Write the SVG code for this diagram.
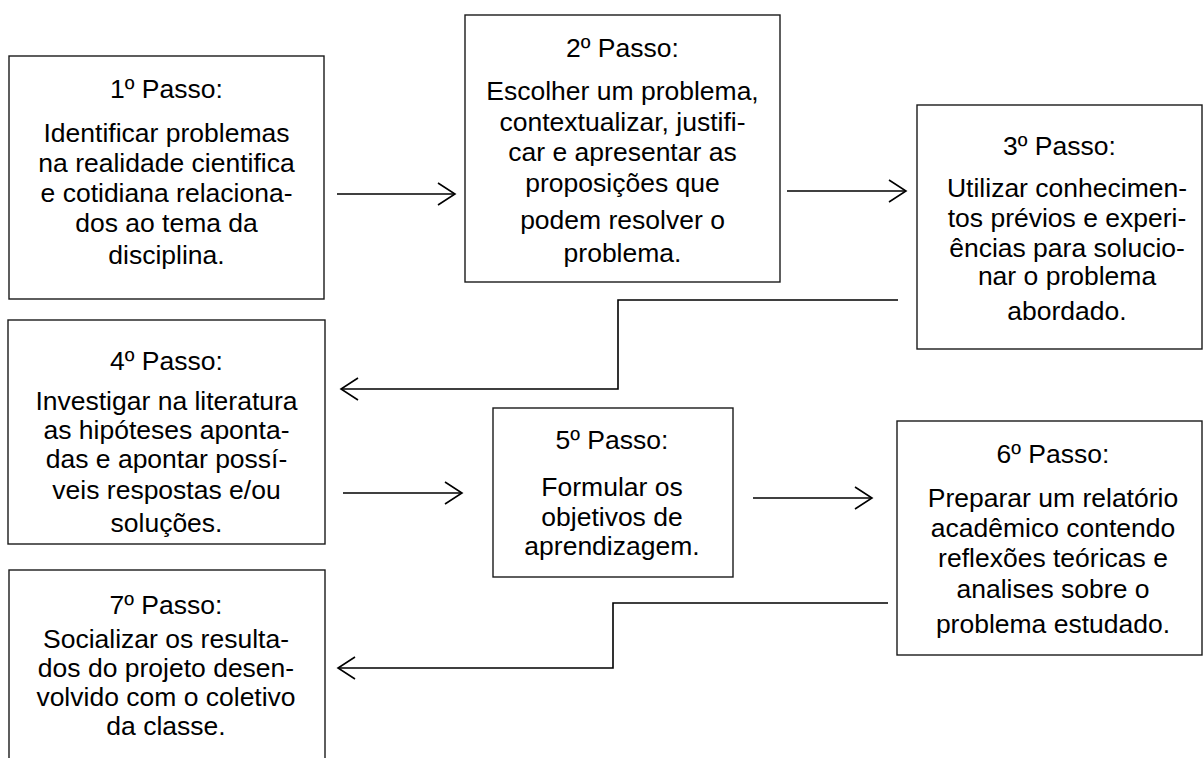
<svg xmlns="http://www.w3.org/2000/svg" width="1203" height="758" viewBox="0 0 1203 758">
<style>
.box{fill:#fff;stroke:#1a1a1a;stroke-width:1.4}
.t{font-family:"Liberation Sans",Arial,sans-serif;font-size:26.5px;fill:#000;text-anchor:middle}
.c{fill:none;stroke:#000;stroke-width:1.6}
</style>
<defs>
<marker id="ah" markerUnits="userSpaceOnUse" markerWidth="30" markerHeight="30" refX="0" refY="0" viewBox="-20 -15 25 30" orient="auto" overflow="visible">
<path d="M-17,-11 L0,0 L-17,11" fill="none" stroke="#000" stroke-width="1.6"/>
</marker>
</defs>
<rect width="1203" height="758" fill="#fff"/>
<g id="node1">
<rect class="box" x="9" y="56" width="315" height="243"/>
<text class="t" x="166.5" y="98">1º Passo:</text>
<text class="t" x="166.5" y="142">Identificar problemas</text>
<text class="t" x="166.5" y="172">na realidade cientifica</text>
<text class="t" x="166.5" y="202">e cotidiana relaciona-</text>
<text class="t" x="166.5" y="232">dos ao tema da</text>
<text class="t" x="166.5" y="264">disciplina.</text>
</g>
<g id="node2">
<rect class="box" x="465" y="15" width="315" height="267"/>
<text class="t" x="622.5" y="57">2º Passo:</text>
<text class="t" x="622.5" y="100">Escolher um problema,</text>
<text class="t" x="622.5" y="131">contextualizar, justifi-</text>
<text class="t" x="622.5" y="161">car e apresentar as</text>
<text class="t" x="622.5" y="192">proposições que</text>
<text class="t" x="622.5" y="229">podem resolver o</text>
<text class="t" x="622.5" y="262">problema.</text>
</g>
<g id="node3">
<rect class="box" x="917" y="105" width="285" height="244"/>
<text class="t" x="1059.5" y="155">3º Passo:</text>
<text class="t" x="1067" y="197">Utilizar conhecimen-</text>
<text class="t" x="1067" y="227">tos prévios e experi-</text>
<text class="t" x="1067" y="257">ências para solucio-</text>
<text class="t" x="1067" y="285">nar o problema</text>
<text class="t" x="1067" y="320">abordado.</text>
</g>
<g id="node4">
<rect class="box" x="8" y="320" width="317" height="224"/>
<text class="t" x="166.5" y="370">4º Passo:</text>
<text class="t" x="166.5" y="410">Investigar na literatura</text>
<text class="t" x="166.5" y="439">as hipóteses aponta-</text>
<text class="t" x="166.5" y="468">das e apontar possí-</text>
<text class="t" x="166.5" y="499">veis respostas e/ou</text>
<text class="t" x="166.5" y="532">soluções.</text>
</g>
<g id="node5">
<rect class="box" x="493" y="408" width="240" height="169"/>
<text class="t" x="612" y="449">5º Passo:</text>
<text class="t" x="612" y="496">Formular os</text>
<text class="t" x="612" y="526">objetivos de</text>
<text class="t" x="612" y="555">aprendizagem.</text>
</g>
<g id="node6">
<rect class="box" x="897" y="421" width="305" height="234"/>
<text class="t" x="1053" y="463">6º Passo:</text>
<text class="t" x="1053" y="507">Preparar um relatório</text>
<text class="t" x="1053" y="537">acadêmico contendo</text>
<text class="t" x="1053" y="567">reflexões teóricas e</text>
<text class="t" x="1053" y="598">analises sobre o</text>
<text class="t" x="1053" y="633">problema estudado.</text>
</g>
<g id="node7">
<rect class="box" x="9" y="570" width="316" height="200"/>
<text class="t" x="166" y="614">7º Passo:</text>
<text class="t" x="166" y="648">Socializar os resulta-</text>
<text class="t" x="166" y="677">dos do projeto desen-</text>
<text class="t" x="166" y="706">volvido com o coletivo</text>
<text class="t" x="166" y="735">da classe.</text>
</g>
<g id="connectors">
<path class="c" d="M337,194 H455" marker-end="url(#ah)"/>
<path class="c" d="M787,191 H906" marker-end="url(#ah)"/>
<path class="c" d="M898,300 H618 V389 H341" marker-end="url(#ah)"/>
<path class="c" d="M343,493 H462" marker-end="url(#ah)"/>
<path class="c" d="M753,498 H872" marker-end="url(#ah)"/>
<path class="c" d="M888,603 H613 V668 H338" marker-end="url(#ah)"/>
</g>
</svg>
